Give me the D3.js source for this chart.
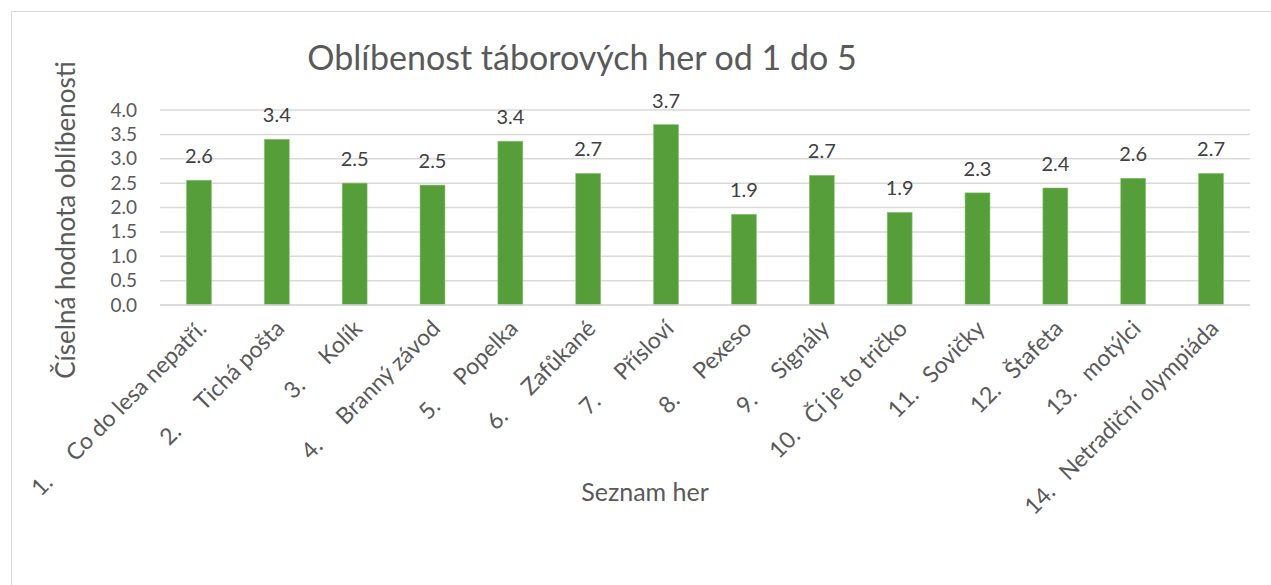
<!DOCTYPE html>
<html>
<head>
<meta charset="utf-8">
<script src="https://cdn.jsdelivr.net/npm/d3@7"></script>
<style>
  body { margin: 0; background: #fff; }
  text { font-family: Lato, "Open Sans", sans-serif; }
</style>
</head>
<body>
<div id="chart"></div>
<script>
// chart data
const gameNums = ["1.", "2.", "3.", "4.", "5.", "6.", "7.", "8.", "9.", "10.", "11.", "12.", "13.", "14."];
const gameNames = ["Co do lesa nepatří.", "Tichá pošta", "Kolík", "Branný závod", "Popelka", "Zafůkané",
    "Přísloví", "Pexeso", "Signály", "Čí je to tričko", "Sovičky", "Štafeta", "motýlci", "Netradiční olympiáda"];
const scores = [2.56, 3.40, 2.50, 2.46, 3.36, 2.70, 3.70, 1.86, 2.66, 1.90, 2.30, 2.40, 2.60, 2.70];
const yTicks = [0, 0.5, 1, 1.5, 2, 2.5, 3, 3.5, 4];

const W = 1271, H = 585;
const margin = { top: 110, right: 21, bottom: 280, left: 160 };
const width = W - margin.left - margin.right,
    height = H - margin.top - margin.bottom;

const svg = d3.select("#chart").append("svg")
    .attr("width", W).attr("height", H);

// outer chart border
svg.append("rect")
    .attr("x", 11.5).attr("y", 11.5)
    .attr("width", 1400).attr("height", 700)
    .attr("fill", "none").attr("stroke", "#d9d9d9");

const x = d3.scaleBand().domain(d3.range(gameNames.length))
    .range([0, width]).paddingInner(0.68).paddingOuter(0.34);
const y = d3.scaleLinear().domain([0, 4]).range([height, 0]);

const g = svg.append("g").attr("transform", `translate(${margin.left},${margin.top})`);

// gridlines
g.append("g").selectAll("line").data(yTicks).join("line")
    .attr("x1", 0).attr("x2", width)
    .attr("y1", d => y(d)).attr("y2", d => y(d))
    .attr("stroke", "#d9d9d9").attr("stroke-width", 1.5);

// y axis labels
const yAxis = g.append("g")
    .call(d3.axisLeft(y).tickValues(yTicks).tickFormat(d3.format(".1f")).tickSize(0).tickPadding(23));
yAxis.select(".domain").remove();
yAxis.selectAll("text").attr("font-size", 19).attr("fill", "#595959")
    .style("font-family", "Lato, sans-serif");

// bars
g.append("g").selectAll("rect").data(scores).join("rect")
    .attr("x", (d, i) => x(i)).attr("width", x.bandwidth())
    .attr("y", d => y(d)).attr("height", d => height - y(d))
    .attr("fill", "#559e3a").attr("stroke", "#8cc474").attr("stroke-width", 0.6);

// value labels
g.append("g").selectAll("text").data(scores).join("text")
    .attr("x", (d, i) => x(i) + x.bandwidth() / 2)
    .attr("y", d => y(d) - 17)
    .attr("text-anchor", "middle")
    .attr("font-size", 20).attr("fill", "#404040")
    .text(d => d.toFixed(1));

// x axis labels rotated, number + tab gap + name
const xl = g.append("g").selectAll("text").data(gameNames).join("text")
    .attr("transform", (d, i) => `translate(${x(i) + x.bandwidth() / 2 + 9},${height + 25}) rotate(-45)`)
    .attr("text-anchor", "end")
    .attr("font-size", 23).attr("fill", "#595959");
xl.append("tspan").attr("class", "num").text((d, i) => gameNums[i]);
xl.append("tspan").attr("class", "nm").text(d => d);
xl.each(function () {
    const t = d3.select(this);
    const nw = t.select(".num").node().getComputedTextLength();
    t.select(".nm").attr("dx", Math.max(49 - nw, 7));
});

// axis line
g.append("line").attr("x1", 0).attr("x2", width)
    .attr("y1", height).attr("y2", height)
    .attr("stroke", "#d9d9d9").attr("stroke-width", 1.5);

// titles
svg.append("text").attr("x", 582).attr("y", 70)
    .attr("text-anchor", "middle").attr("font-size", 34).attr("fill", "#595959")
    .text("Oblíbenost táborových her od 1 do 5");

svg.append("text").attr("transform", "translate(75,220) rotate(-90)")
    .attr("text-anchor", "middle").attr("font-size", 26).attr("fill", "#595959")
    .text("Číselná hodnota oblíbenosti");

svg.append("text").attr("x", 645).attr("y", 501)
    .attr("text-anchor", "middle").attr("font-size", 25).attr("fill", "#595959")
    .text("Seznam her");
</script>
</body>
</html>
